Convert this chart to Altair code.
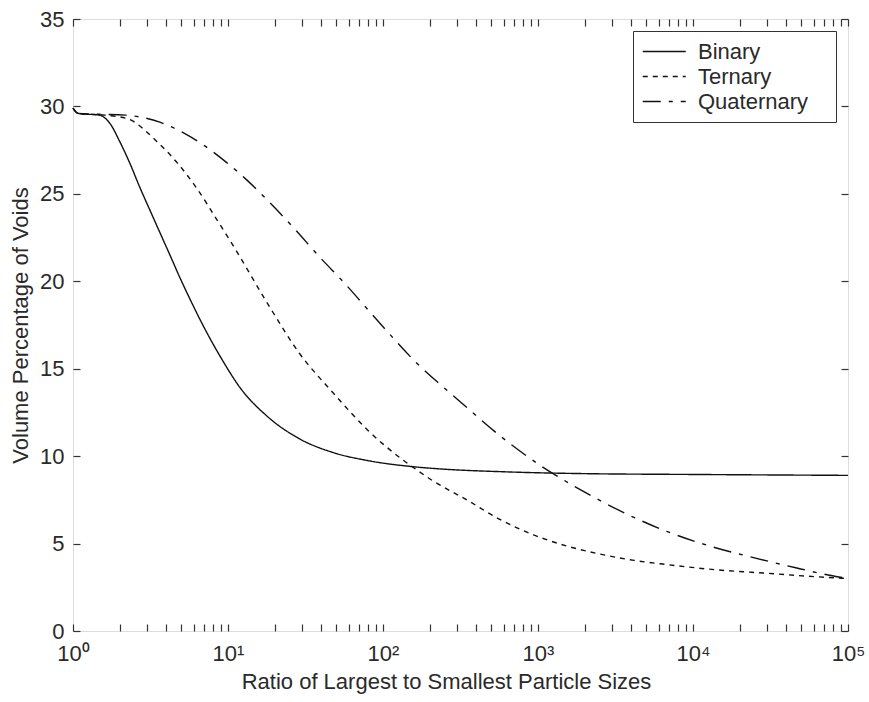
import json
import altair as alt
import pandas as pd

# ---------------- data ----------------
series_names = ["Binary", "Ternary", "Quaternary"]

binary_ratio = [1.0, 1.08, 1.48, 1.74, 2.0, 2.34, 2.69, 3.16, 3.63, 4.27, 4.9, 5.89,
                6.61, 8.91, 12.0, 17.8, 28.8, 47.9, 79.4, 155.0, 209.0, 631.0,
                1995.0, 11220.0, 100000.0]
binary_voids = [29.9, 29.6, 29.5, 29.0, 28.0, 26.7, 25.4, 24.0, 22.8, 21.4, 20.2, 18.7,
                17.8, 15.7, 13.9, 12.3, 11.0, 10.2, 9.75, 9.4, 9.3, 9.1,
                9.0, 8.95, 8.9]

ternary_ratio = [1.0, 1.08, 1.6, 2.24, 3.47, 4.68, 6.31, 8.51, 10.7, 17.8, 28.8, 47.9,
                 79.4, 129.0, 166.0, 209.0, 347.0, 562.0, 933.0, 1549.0, 2512.0,
                 4074.0, 6761.0, 14125.0, 30200.0, 63096.0, 100000.0]
ternary_voids = [29.9, 29.6, 29.5, 29.3, 28.0, 26.8, 25.3, 23.5, 22.1, 18.8, 15.9, 13.6,
                 11.5, 9.9, 9.2, 8.6, 7.5, 6.4, 5.5, 4.85, 4.4,
                 4.05, 3.8, 3.5, 3.3, 3.1, 3.0]

quaternary_ratio = [1.0, 1.08, 2.19, 3.63, 5.13, 6.92, 9.77, 13.2, 18.6, 27.5, 38.9, 55.0,
                    95.5, 166.0, 234.0, 316.0, 562.0, 1023.0, 1950.0, 3715.0, 6761.0,
                    13490.0, 24550.0, 46770.0, 66070.0, 100000.0]
quaternary_voids = [29.9, 29.6, 29.5, 29.1, 28.5, 27.8, 26.8, 25.8, 24.5, 22.9, 21.4, 20.0,
                    17.6, 15.3, 14.1, 13.1, 11.2, 9.5, 8.0, 6.7, 5.7,
                    4.8, 4.2, 3.6, 3.3, 3.0]

x_major_ticks = [1, 10, 100, 1000, 10000, 100000]
x_major_labels = ["10\u2070", "10\u00b9", "10\u00b2", "10\u00b3", "10\u2074", "10\u2075"]
x_minor_ticks = [2, 3, 4, 5, 6, 7, 8, 9,
                 20, 30, 40, 50, 60, 70, 80, 90,
                 200, 300, 400, 500, 600, 700, 800, 900,
                 2000, 3000, 4000, 5000, 6000, 7000, 8000, 9000,
                 20000, 30000, 40000, 50000, 60000, 70000, 80000, 90000]
y_ticks = [0, 5, 10, 15, 20, 25, 30, 35]

x_title = "Ratio of Largest to Smallest Particle Sizes"
y_title = "Volume Percentage of Voids"

# ---------------- table ----------------
rows = []
for name, xs, ys in zip(series_names,
                        [binary_ratio, ternary_ratio, quaternary_ratio],
                        [binary_voids, ternary_voids, quaternary_voids]):
    for xv, yv in zip(xs, ys):
        rows.append({"series": name, "ratio": xv, "voids": yv})
df = pd.DataFrame(rows)

FONT = "Liberation Sans"
TXT = "#2a2a2a"
LINE = "#111111"
FRAME = "#333333"
FS = 22

xscale = alt.Scale(type="log", domain=[1, 100000], nice=False)
yscale = alt.Scale(domain=[0, 35], nice=False, zero=False)

label_expr = "{}[indexof({}, datum.value)]".format(
    json.dumps(x_major_labels, ensure_ascii=False), json.dumps(x_major_ticks))

dash_range = [[1, 0], [5, 5], [18, 8, 4, 8]]

main = alt.Chart(df).mark_line(strokeWidth=1.4, color=LINE, interpolate="monotone").encode(
    x=alt.X("ratio:Q", scale=xscale, title=x_title,
            axis=alt.Axis(orient="bottom", values=x_major_ticks, labelExpr=label_expr,
                          ticks=False, domain=False, grid=False, labelFlush=False,
                          labelOverlap=False, labelBound=False,
                          labelFont=FONT, labelFontSize=FS, labelColor=TXT,
                          labelPadding=12,
                          titleFont=FONT, titleFontSize=FS, titleFontWeight="normal",
                          titleColor=TXT, titlePadding=7, titleX=373)),
    y=alt.Y("voids:Q", scale=yscale, title=y_title,
            axis=alt.Axis(orient="left", values=y_ticks, ticks=False, domain=False,
                          grid=False, labelFont=FONT, labelFontSize=FS, labelColor=TXT,
                          labelPadding=9, titleFont=FONT, titleFontSize=FS,
                          titleFontWeight="normal", titleColor=TXT, titlePadding=7)),
    strokeDash=alt.StrokeDash(
        "series:N",
        scale=alt.Scale(domain=series_names, range=dash_range),
        legend=alt.Legend(title=None, orient="top-right", offset=12,
                          symbolType="M-1,0H3", symbolSize=462, symbolStrokeWidth=1.4,
                          symbolStrokeColor=LINE, symbolFillColor="transparent",
                          labelFont=FONT, labelFontSize=FS, labelColor=TXT,
                          labelOffset=33, padding=9, rowPadding=2,
                          strokeColor=FRAME, fillColor="white",
                          labelExpr="datum.label + '\u00a0\u00a0\u00a0\u200b'")),
)


def tick_layer(x_orient, y_orient):
    return alt.Chart(df).mark_line(opacity=0).encode(
        x=alt.X("ratio:Q", scale=xscale, title=None,
                axis=alt.Axis(orient=x_orient, offset=-7,
                              values=x_major_ticks + x_minor_ticks,
                              labels=False, domain=False, grid=False, ticks=True,
                              tickSize=7, tickWidth=1.2, tickColor=FRAME)),
        y=alt.Y("voids:Q", scale=yscale, title=None,
                axis=alt.Axis(orient=y_orient, offset=-7, values=y_ticks,
                              labels=False, domain=False, grid=False, ticks=True,
                              tickSize=7, tickWidth=1.2, tickColor=FRAME)),
        detail="series:N",
    )


chart = alt.layer(
    main,
    tick_layer("bottom", "left"),
    tick_layer("top", "right"),
).resolve_axis(x="independent", y="independent").properties(
    width=775, height=612,
    autosize=alt.AutoSizeParams(type="none"),
    padding={"left": 73, "top": 19, "right": 21, "bottom": 71},
).configure_view(stroke=FRAME, strokeWidth=1.4).configure(background="white")

chart.save("out.html", embed_options={"renderer": "svg", "actions": False})
